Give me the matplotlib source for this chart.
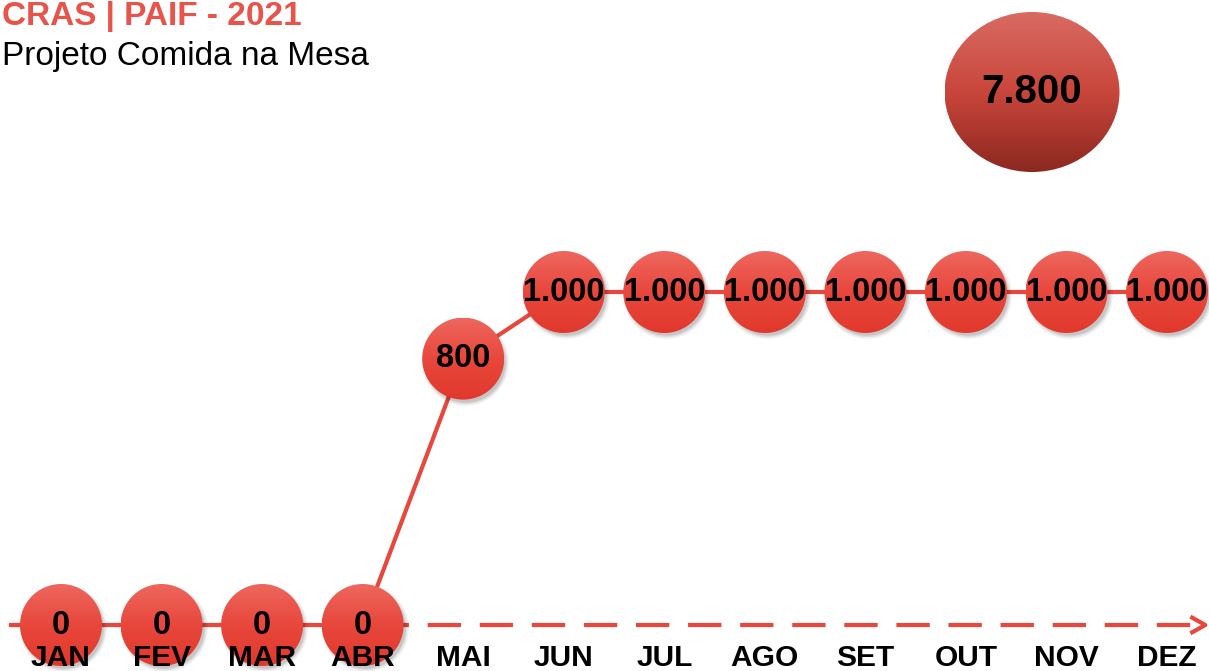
import numpy as np
import matplotlib
matplotlib.use('Agg')
import matplotlib.pyplot as plt
from matplotlib.patches import Ellipse
from matplotlib.colors import LinearSegmentedColormap

plt.rcParams['font.family'] = ['Liberation Sans', 'DejaVu Sans']

months = ['JAN', 'FEV', 'MAR', 'ABR', 'MAI', 'JUN', 'JUL', 'AGO', 'SET', 'OUT', 'NOV', 'DEZ']
values = [0, 0, 0, 0, 800, 1000, 1000, 1000, 1000, 1000, 1000, 1000]
total = 7800

RED = '#E8473C'
PX_X = 100.55   # pixels per month
PX_Y = 0.333    # pixels per unit


def fmt(v):
    return f'{v:,}'.replace(',', '.')


def grad_ellipse(ax, cx, cy, w, h, colors, z):
    """ellipse filled with a vertical gradient (bottom -> top colours)"""
    cmap = LinearSegmentedColormap.from_list('g', colors)
    ell = Ellipse((cx, cy), w, h, facecolor='none', edgecolor='none')
    ax.add_patch(ell)
    im = ax.imshow(np.linspace(0, 1, 256).reshape(-1, 1),
                   extent=[cx - w / 2, cx + w / 2, cy - h / 2, cy + h / 2],
                   origin='lower', cmap=cmap, aspect='auto', zorder=z)
    im.set_clip_path(ell)


fig = plt.figure(figsize=(12.09, 6.71), dpi=100)
ax = fig.add_axes([0, 0, 1, 1])
ax.set_xlim(-61 / PX_X, (1209 - 61) / PX_X)
ax.set_ylim(-46 / PX_Y, (671 - 46) / PX_Y)
ax.axis('off')

x = np.arange(len(months))
y = np.array(values)

# dashed base axis with arrow
ax.plot([-0.5, 11.33], [0, 0], color=RED, lw=3, dashes=(8, 4.5), zorder=1)
ax.plot([11.25, 11.38, 11.25], [22, 0, -22], color=RED, lw=3, zorder=1)

# line through the points
ax.plot(x, y, color=RED, lw=3, zorder=2)
ax.plot([-0.5, 0], [0, 0], color=RED, lw=3, zorder=2)

# soft shadows
for a, s in [(0.06, 3900), (0.08, 3600), (0.10, 3350)]:
    ax.scatter(x + 0.02, y - 10, s=s, color='black', alpha=a, lw=0, zorder=3)

w, h = 82 / PX_X, 82 / PX_Y
for xi, v in zip(x, y):
    grad_ellipse(ax, xi, v, w, h, ['#E2382C', '#E8473C', '#EE675D'], 4)
    ax.text(xi, v, fmt(v), ha='center', va='center', fontsize=23.5,
            fontweight='bold', color='black', zorder=6)

for xi, m in zip(x, months):
    ax.text(xi, -98, m, ha='center', va='center', fontsize=21.5,
            fontweight='bold', color='black', zorder=7)

# total bubble
cx, cy = (1032 - 61) / PX_X, (625 - 92) / PX_Y
grad_ellipse(ax, cx, cy, 175 / PX_X, 160 / PX_Y, ['#8C2820', '#C8463B', '#D96B63'], 3)
ax.text(cx, cy, fmt(total), ha='center', va='center', fontsize=29,
        fontweight='bold', color='black', zorder=6)

# titles
fig.text(0.002, 0.975, 'CRAS | PAIF - 2021', ha='left', va='center',
         fontsize=24, fontweight='bold', color='#E8534A')
fig.text(0.002, 0.916, 'Projeto Comida na Mesa', ha='left', va='center',
         fontsize=24, color='black')

fig.savefig('out.png', dpi=100)
